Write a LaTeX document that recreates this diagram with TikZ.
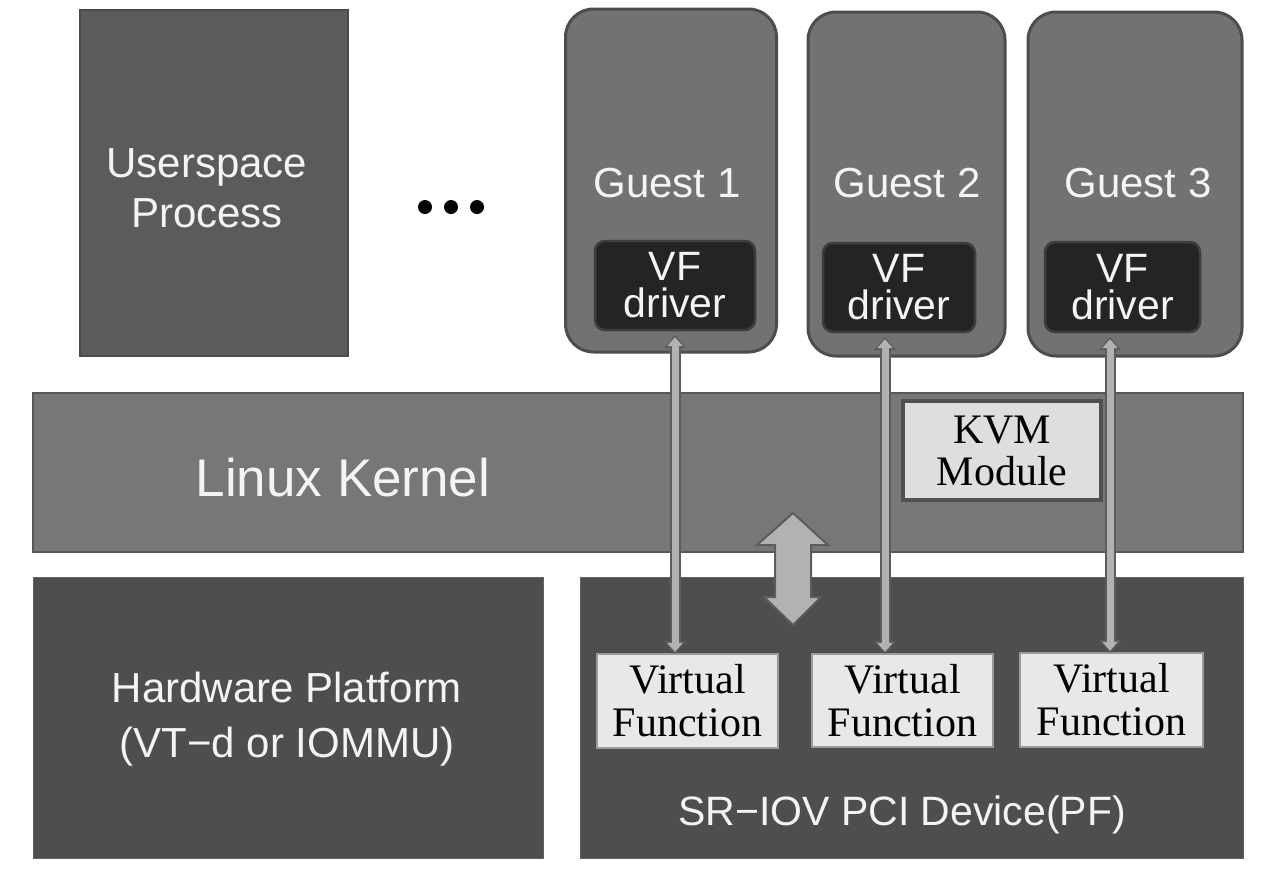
\documentclass[tikz,border=0pt]{standalone}
\usepackage{fontspec}
\setmainfont{Liberation Sans}
\newfontfamily\seriffont{Liberation Serif}
\usetikzlibrary{arrows.meta}
\definecolor{userfill}{HTML}{5B5B5B}
\definecolor{userdraw}{HTML}{4A4A4A}
\definecolor{guestfill}{HTML}{727272}
\definecolor{guestdraw}{HTML}{4D4D4D}
\definecolor{vfdfill}{HTML}{262323}
\definecolor{vfddraw}{HTML}{3E3E3E}
\definecolor{kernfill}{HTML}{777777}
\definecolor{kerndraw}{HTML}{585858}
\definecolor{kvmfill}{HTML}{DEDEDE}
\definecolor{kvmdraw}{HTML}{505050}
\definecolor{hwfill}{HTML}{4F4E4C}
\definecolor{vffill}{HTML}{E8E8E8}
\definecolor{vfdraw}{HTML}{9A9A9A}
\definecolor{arrlight}{HTML}{B2B2B2}
\definecolor{arrdark}{HTML}{5C5C5C}
\definecolor{txtwhite}{HTML}{F4F4F4}
\tikzset{
  blk/.style={inner sep=0pt, outer sep=0pt},
  userbox/.style={blk, fill=userfill, draw=userdraw, line width=2pt},
  guestbox/.style={blk, fill=guestfill, draw=guestdraw, line width=3pt, rounded corners=28pt},
  vfdbox/.style={blk, fill=vfdfill, draw=vfddraw, line width=2.5pt, rounded corners=10pt,
    text=txtwhite, align=center, font=\fontsize{41}{37}\selectfont},
  kernbox/.style={blk, fill=kernfill, draw=kerndraw, line width=2pt},
  kvmbox/.style={blk, fill=kvmfill, draw=kvmdraw, line width=4pt, text=black, align=center,
    font=\seriffont\fontsize{42}{42}\selectfont},
  hwbox/.style={blk, fill=hwfill, draw=hwfill!90!white, line width=1pt},
  vfbox/.style={blk, fill=vffill, draw=vfdraw, line width=1.5pt, text=black, align=center,
    font=\seriffont\fontsize{42}{43}\selectfont},
  wlabel/.style={text=txtwhite, align=center, inner sep=0pt},
  outerarrow/.style={line width=11pt, draw=arrdark,
    {Triangle[width=21pt,length=13pt]}-{Triangle[width=21pt,length=13pt]}},
  innerarrow/.style={line width=7pt, draw=arrlight,
    {Triangle[width=15pt,length=9pt]}-{Triangle[width=15pt,length=9pt]},
    shorten <=2.2pt, shorten >=2.2pt},
}
\begin{document}
\begin{tikzpicture}[x=1pt,y=-1pt]
\useasboundingbox[fill=white] (0,0) rectangle (1264,879);

% Userspace process
\node[userbox, minimum width=268pt, minimum height=346pt] (user) at (214,183) {};
\node[wlabel, font=\fontsize{42}{50}\selectfont] (userlbl) at (207,188) {Userspace\\Process};

% dots
\fill[black] (425,207) circle (7pt) (451,207) circle (7pt) (477,207) circle (7pt);

% Guests
\node[guestbox, minimum width=211pt, minimum height=343pt] (g1) at (671,180.5) {};
\node[guestbox, minimum width=197pt, minimum height=344pt] (g2) at (906.5,184) {};
\node[guestbox, minimum width=214pt, minimum height=344pt] (g3) at (1135,184) {};
\node[wlabel, font=\fontsize{42}{50}\selectfont] (g1lbl) at (667,183) {Guest 1};
\node[wlabel, font=\fontsize{42}{50}\selectfont] (g2lbl) at (907,183) {Guest 2};
\node[wlabel, font=\fontsize{42}{50}\selectfont] (g3lbl) at (1138,183) {Guest 3};

% VF drivers
\node[vfdbox, minimum width=160pt, minimum height=89pt] (vfd1) at (675,285.5) {VF\\driver};
\node[vfdbox, minimum width=152pt, minimum height=89pt] (vfd2) at (899,287.5) {VF\\driver};
\node[vfdbox, minimum width=155pt, minimum height=90pt] (vfd3) at (1122.5,287) {VF\\driver};

% Linux kernel
\node[kernbox, minimum width=1210pt, minimum height=159pt] (kern) at (638,472.5) {};
\node[wlabel, font=\fontsize{53}{60}\selectfont] (kernlbl) at (343,478) {Linux Kernel};
\node[kvmbox, minimum width=198pt, minimum height=99pt] (kvm) at (1002,450.5) {KVM\\Module};

% Hardware platform
\node[hwbox, minimum width=510pt, minimum height=281pt] (hw) at (288,717.5) {};
\node[wlabel, font=\fontsize{42}{55}\selectfont] (hwlbl) at (287,719) {Hardware Platform\\(VT\textminus d or IOMMU)};

% SR-IOV device
\node[hwbox, minimum width=663pt, minimum height=281pt] (sriov) at (911.5,717.5) {};
\node[wlabel, font=\fontsize{41}{50}\selectfont] (sriovlbl) at (902,815) {SR\textminus IOV PCI Device(PF)};

% Virtual functions
\node[vfbox, minimum width=181pt, minimum height=94pt] (vf1) at (687.5,701) {Virtual\\Function};
\node[vfbox, minimum width=181pt, minimum height=93pt] (vf2) at (902.5,700.5) {Virtual\\Function};
\node[vfbox, minimum width=183pt, minimum height=94pt] (vf3) at (1111.5,700) {Virtual\\Function};

% big double arrow between kernel and device
\filldraw[fill=arrlight, draw=arrdark, line width=2pt, line join=miter]
  (793,513) -- (828,545) -- (811,545) -- (811,597) -- (821,597) -- (793,625)
  -- (764,597) -- (775,597) -- (775,545) -- (757,545) -- cycle;

% thin arrows VF driver <-> Virtual Function
\coordinate (a1) at ([yshift=-5pt]vfd1.south);
\coordinate (a2) at ([xshift=-14pt,yshift=-5pt]vfd2.south);
\coordinate (a3) at ([xshift=-12.5pt,yshift=-5pt]vfd3.south);
\foreach \a/\v in {a1/vf1,a2/vf2,a3/vf3}{
  \draw[outerarrow] (\a) -- (\a |- \v.north);
  \draw[innerarrow] (\a) -- (\a |- \v.north);
}
\end{tikzpicture}
\end{document}
